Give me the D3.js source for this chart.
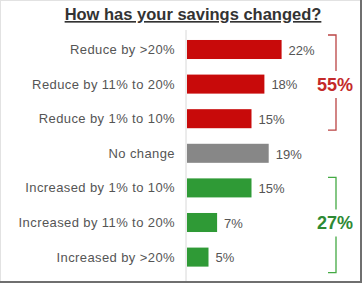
<!DOCTYPE html>
<html>
<head>
<meta charset="utf-8">
<script src="https://d3js.org/d3.v7.min.js"></script>
<style>
  body { margin: 0; background: #fff; }
  svg text { font-family: "Liberation Sans", Arial, sans-serif; }
</style>
</head>
<body>
<svg id="chart" width="364" height="284"></svg>
<script>
var categories = ["Reduce by >20%", "Reduce by 11% to 20%", "Reduce by 1% to 10%", "No change",
                  "Increased by 1% to 10%", "Increased by 11% to 20%", "Increased by >20%"]
var values = [22, 18, 15, 19, 15, 7, 5]
var groups = ["reduce", "reduce", "reduce", "same", "increase", "increase", "increase"]
var totals = [{group: "reduce", label: "55%", first: 0, last: 2},
              {group: "increase", label: "27%", first: 4, last: 6}]

var barColor = {reduce: "#c80a0a", same: "#878787", increase: "#2f9a36"}
var totalColor = {reduce: "#c42a2a", increase: "#2e8a34"}
var bracketColor = {reduce: "#b44", increase: "#4a4"}
// how far the bracket reaches past the first / last bar
var bracketPad = {reduce: [5, 2], increase: [1, 6]}

var svg = d3.select("#chart")

// frame
svg.append("rect").attr("x", 0.5).attr("y", 0.5).attr("width", 361).attr("height", 282)
   .attr("fill", "none").attr("stroke", "#e2e2e2")
svg.append("path").attr("d", "M361,0V282H0").attr("fill", "none").attr("stroke", "#6f6f6f").attr("stroke-width", 2)

svg.append("text").attr("x", 193).attr("y", 20).attr("text-anchor", "middle")
   .attr("font-size", 16.5).attr("font-weight", "bold").attr("fill", "#333")
   .attr("text-decoration", "underline")
   .text("How has your savings changed?")

var x = d3.scaleLinear().domain([0, 25]).range([187, 294.5])
var y = d3.scaleBand().domain(categories).range([32.2, 274.4]).paddingInner(0.45).paddingOuter(0.225)

// axis line
svg.append("line").attr("x1", 186).attr("x2", 186).attr("y1", 30).attr("y2", 281)
   .attr("stroke", "#d8d8d8")

svg.selectAll("rect.bar").data(categories).enter().append("rect")
   .attr("class", "bar")
   .attr("x", x(0))
   .attr("y", function(d) { return y(d) })
   .attr("width", function(d, i) { return x(values[i]) - x(0) })
   .attr("height", y.bandwidth())
   .attr("fill", function(d, i) { return barColor[groups[i]] })

svg.selectAll("text.cat").data(categories).enter().append("text")
   .attr("class", "cat")
   .attr("x", 175)
   .attr("y", function(d) { return y(d) + y.bandwidth() / 2 })
   .attr("dy", "0.35em")
   .attr("text-anchor", "end")
   .attr("font-size", 13)
   .attr("letter-spacing", 0.4)
   .attr("fill", "#555")
   .text(function(d) { return d })

svg.selectAll("text.val").data(categories).enter().append("text")
   .attr("class", "val")
   .attr("x", function(d, i) { return x(values[i]) + 7 })
   .attr("y", function(d) { return y(d) + y.bandwidth() / 2 })
   .attr("dy", "0.4em")
   .attr("font-size", 13)
   .attr("fill", "#555")
   .text(function(d, i) { return values[i] + "%" })

totals.forEach(function(t) {
  var top = y(categories[t.first]) - bracketPad[t.group][0]
  var bottom = y(categories[t.last]) + y.bandwidth() + bracketPad[t.group][1]
  var mid = (y(categories[t.first]) + y(categories[t.last]) + y.bandwidth()) / 2
  svg.append("path")
     .attr("d", "M328," + top + "H336V" + (mid - 13) + "M336," + (mid + 14) + "V" + bottom + "H328")
     .attr("fill", "none").attr("stroke", bracketColor[t.group]).attr("stroke-width", 1.3)
  svg.append("text").attr("x", 335).attr("y", mid).attr("dy", "0.36em")
     .attr("text-anchor", "middle").attr("font-size", 18).attr("font-weight", "bold")
     .attr("fill", totalColor[t.group]).text(t.label)
})
</script>
</body>
</html>
